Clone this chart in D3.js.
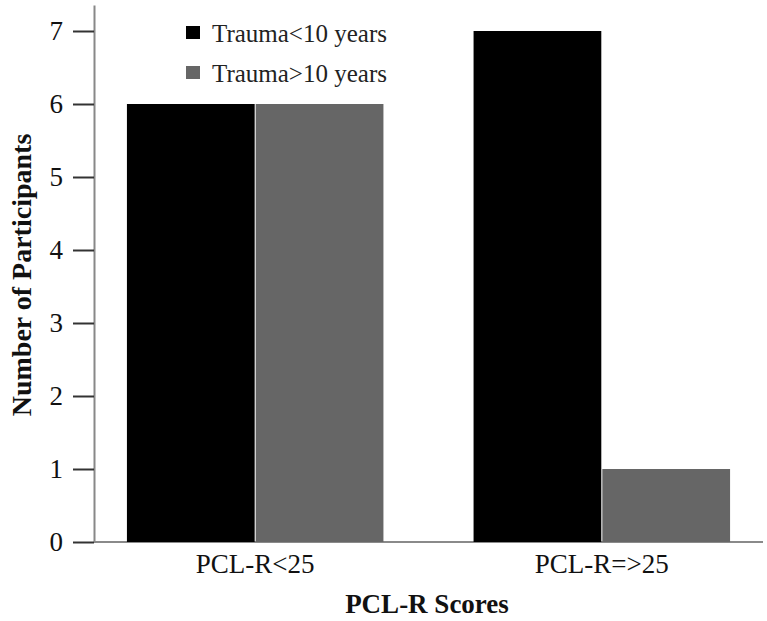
<!DOCTYPE html>
<html>
<head>
<meta charset="utf-8">
<script src="https://cdn.jsdelivr.net/npm/d3@7"></script>
<style>
  body { margin: 0; background: #fff; }
  text { font-family: "Liberation Serif", "DejaVu Serif", serif; }
</style>
</head>
<body>
<div class="chart"></div>
<script>
const categories = ["PCL-R<25", "PCL-R=>25"];
const seriesNames = ["Trauma<10 years", "Trauma>10 years"];
const under10 = [6, 7];
const over10 = [6, 1];
const yTicks = [0, 1, 2, 3, 4, 5, 6, 7];
const colors = ["#000000", "#666666"];

const margin = { top: 5, left: 94, right: 4, bottom: 79 };
const width = 767 - margin.left - margin.right;
const height = 621 - margin.top - margin.bottom;

const data = categories.map((c, i) => ({
  category: c,
  values: [under10[i], over10[i]]
}));

const svg = d3.select(".chart")
  .append("svg")
  .attr("width", 767)
  .attr("height", 621)
  .append("g")
  .attr("transform", `translate(${margin.left}, ${margin.top})`);

const xScale = d3.scaleBand()
  .domain(categories)
  .range([0, width])
  .paddingInner(0.26)
  .paddingOuter(0.095);

const xInner = d3.scaleBand()
  .domain([0, 1])
  .range([0, xScale.bandwidth()])
  .paddingInner(0.008);

// 7 sits at y=31 in a 0..537 plot, so the top of the domain is a bit past 7
const yScale = d3.scaleLinear()
  .domain([0, 7 * 537 / 511])
  .range([height, 0]);

// x baseline
svg.append("line")
  .attr("x1", 0).attr("x2", width)
  .attr("y1", height).attr("y2", height)
  .attr("stroke", "#8a8a8a")
  .attr("stroke-width", 2);

const groups = svg.selectAll(".group")
  .data(data)
  .enter()
  .append("g")
  .attr("class", "group")
  .attr("transform", d => `translate(${xScale(d.category)}, 0)`);

groups.selectAll("rect")
  .data(d => d.values)
  .enter()
  .append("rect")
  .attr("x", (d, i) => xInner(i))
  .attr("width", xInner.bandwidth())
  .attr("y", d => yScale(d))
  .attr("height", d => height - yScale(d))
  .attr("fill", (d, i) => colors[i]);

// y axis
const yAxis = d3.axisLeft(yScale)
  .tickValues(yTicks)
  .tickSizeInner(21)
  .tickSizeOuter(0)
  .tickPadding(10);

const yg = svg.append("g")
  .attr("class", "axis y-axis")
  .call(yAxis);

yg.select(".domain")
  .attr("stroke", "#888")
  .attr("stroke-width", 2);
yg.selectAll(".tick line")
  .attr("stroke", "#333")
  .attr("stroke-width", 2);
yg.selectAll(".tick text")
  .attr("font-family", "Liberation Serif, serif")
  .attr("font-size", 27)
  .attr("fill", "#111");

// x labels
svg.selectAll(".x-label")
  .data(categories)
  .enter()
  .append("text")
  .attr("class", "x-label")
  .attr("x", d => xScale(d) + xScale.bandwidth() / 2)
  .attr("y", height + 31)
  .attr("text-anchor", "middle")
  .attr("font-size", 27)
  .attr("fill", "#111")
  .text(d => d);

// axis titles
svg.append("text")
  .attr("x", 333)
  .attr("y", height + 71)
  .attr("text-anchor", "middle")
  .attr("font-size", 27)
  .attr("font-weight", "bold")
  .attr("fill", "#111")
  .text("PCL-R Scores");

svg.append("text")
  .attr("transform", `translate(${-63}, ${270}) rotate(-90)`)
  .attr("text-anchor", "middle")
  .attr("font-size", 28)
  .attr("font-weight", "bold")
  .attr("fill", "#111")
  .text("Number of Participants");

// legend
const legend = svg.selectAll(".legend")
  .data(seriesNames)
  .enter()
  .append("g")
  .attr("class", "legend")
  .attr("transform", (d, i) => `translate(92, ${28 + i * 40})`);

legend.append("rect")
  .attr("width", 14)
  .attr("height", 13)
  .attr("y", -7)
  .attr("fill", (d, i) => colors[i]);

legend.append("text")
  .attr("x", 26)
  .attr("dy", "0.35em")
  .attr("font-size", 25)
  .attr("fill", "#222")
  .text(d => d);
</script>
</body>
</html>
